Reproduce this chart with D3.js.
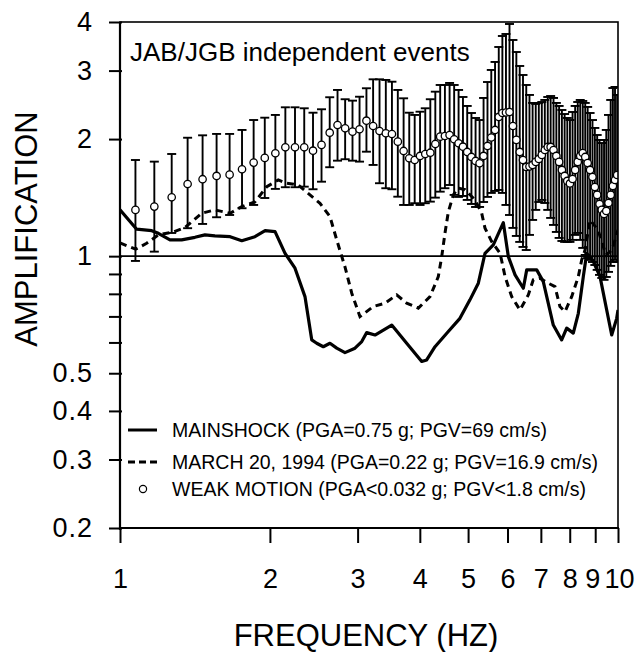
<!DOCTYPE html>
<html>
<head>
<meta charset="utf-8">
<script src="https://cdn.jsdelivr.net/npm/d3@7"></script>
<style>
  body { margin: 0; background: #fff; }
  svg { display: block; }
  text { font-family: "Liberation Sans", Arial, Helvetica, sans-serif; fill: #000; }
</style>
</head>
<body>
<svg id="chart" width="637" height="652"></svg>
<script>
// weak motion spectral ratios (mean +/- 1 sigma), FFT frequencies in Hz
const weakFreq = [1.074,1.172,1.270,1.367,1.465,1.563,1.660,1.758,1.855,1.953,2.051,
  2.148,2.246,2.344,2.441,2.539,2.637,2.734,2.832,2.930,3.027,3.125,3.223,3.320,3.418,3.516,3.613,3.711,3.809,3.906,4.004,4.102,4.199,4.297,4.395,4.492,
  4.590,4.688,4.785,4.883,4.980,5.078,5.176,5.273,5.371,5.469,5.566,5.664,5.762,5.859,5.957,6.055,6.152,6.250,6.348,6.445,6.543,6.641,6.738,6.836,6.934,
  7.031,7.129,7.227,7.324,7.422,7.520,7.617,7.715,7.813,7.910,8.008,8.105,8.203,8.301,8.398,8.496,8.594,8.691,8.789,8.887,8.984,9.082,9.180,9.277,9.375,
  9.473,9.570,9.668,9.766,9.863,9.961];
const weakMean = [1.315,1.341,1.417,1.533,1.577,1.608,1.620,1.673,1.740,1.789,1.839,
  1.905,1.905,1.905,1.867,1.932,2.077,2.174,2.132,2.090,2.120,2.230,2.161,2.098,2.070,2.061,1.970,1.864,1.785,1.767,1.810,1.831,1.845,1.943,2.029,2.037,
  2.049,1.998,1.951,1.912,1.853,1.799,1.757,1.733,1.810,1.920,2.019,2.111,2.280,2.334,2.341,2.348,2.161,1.990,1.853,1.767,1.696,1.700,1.716,1.747,1.778,
  1.821,1.875,1.909,1.909,1.875,1.810,1.747,1.666,1.608,1.561,1.538,1.579,1.666,1.747,1.810,1.842,1.799,1.736,1.666,1.598,1.506,1.437,1.362,1.315,1.284,
  1.307,1.370,1.437,1.515,1.570,1.617];
const weakUpper = [1.767,1.750,1.831,2.016,2.045,2.062,2.062,2.111,2.239,2.270,2.307,
  2.414,2.414,2.400,2.338,2.386,2.562,2.675,2.532,2.511,2.570,2.702,2.849,2.849,2.838,2.809,2.675,2.546,2.338,2.307,2.352,2.400,2.532,2.648,2.755,2.755,
  2.788,2.755,2.675,2.566,2.433,2.334,2.266,2.239,2.551,2.804,3.011,3.157,3.450,3.682,3.726,3.953,3.596,3.349,3.083,2.923,2.755,2.597,2.477,2.462,2.477,
  2.491,2.521,2.566,2.581,2.551,2.477,2.433,2.376,2.320,2.266,2.239,2.348,2.433,2.491,2.521,2.506,2.477,2.419,2.334,2.239,2.136,2.049,1.990,1.954,1.990,
  2.111,2.307,2.521,2.706,2.723,2.597];
const weakLower = [0.972,1.027,1.147,1.180,1.210,1.259,1.276,1.328,1.354,1.411,1.489,
  1.504,1.504,1.509,1.486,1.554,1.693,1.760,1.775,1.760,1.750,1.856,1.716,1.540,1.495,1.486,1.422,1.354,1.354,1.368,1.354,1.368,1.381,1.414,1.465,1.495,
  1.524,1.437,1.420,1.428,1.395,1.362,1.338,1.338,1.378,1.420,1.454,1.471,1.480,1.454,1.354,1.276,1.182,1.127,1.088,1.056,1.037,1.134,1.239,1.315,1.378,
  1.395,1.370,1.315,1.254,1.203,1.154,1.114,1.094,1.088,1.088,1.088,1.101,1.134,1.147,1.101,1.050,1.007,0.989,0.978,0.966,0.949,0.922,0.895,0.879,0.869,
  0.884,0.911,0.944,0.966,0.978,0.966];

// mainshock ratio
const mainFreq = [1.000,1.080,1.158,1.194,1.260,1.330,1.414,1.481,1.551,1.664,1.756,1.866,1.956,2.048,2.145,2.246,2.352,2.427,2.483,2.560,
  2.640,2.724,2.830,2.964,3.058,3.129,3.251,3.513,3.764,4.035,4.129,4.291,4.563,4.815,5.043,5.242,5.407,5.619,5.885,6.023,
  6.213,6.455,6.557,6.867,7.079,7.414,7.707,7.888,8.132,8.324,8.518,8.653,8.921,9.203,9.491,9.713,9.940,10.0];
const mainAmp = [1.315,1.173,1.163,1.145,1.101,1.101,1.118,1.134,1.127,1.122,1.096,1.122,1.163,1.156,1.017,0.931,0.787,0.609,0.597,0.585,
  0.597,0.580,0.565,0.580,0.603,0.636,0.627,0.665,0.597,0.536,0.541,0.585,0.640,0.692,0.772,0.852,1.017,1.069,1.219,0.997,
  0.895,0.827,0.922,0.922,0.860,0.665,0.609,0.653,0.634,0.713,0.886,1.017,0.968,0.886,0.727,0.627,0.692,0.727];

// March 20, 1994 aftershock ratio
const marchFreq = [1.000,1.075,1.131,1.194,1.279,1.351,1.459,1.551,1.664,1.756,1.866,1.971,2.079,2.161,2.280,2.407,2.521,2.640,2.724,2.830,
  2.920,3.033,3.226,3.405,3.594,3.764,3.972,4.193,4.357,4.426,4.493,4.563,4.670,4.772,4.929,5.163,5.325,5.407,5.578,5.798,
  5.932,6.117,6.356,6.605,6.759,6.971,7.244,7.472,7.646,7.826,8.073,8.324,8.455,8.586,8.786,9.117,9.460,9.727,10.0];
const marchAmp = [1.081,1.042,1.079,1.134,1.154,1.185,1.289,1.315,1.289,1.341,1.378,1.509,1.570,1.540,1.524,1.437,1.368,1.264,1.101,0.938,
  0.803,0.699,0.742,0.757,0.795,0.757,0.735,0.787,0.886,0.997,1.145,1.299,1.437,1.497,1.482,1.395,1.289,1.180,1.090,1.017,
  0.886,0.787,0.727,0.795,0.869,0.877,0.852,0.835,0.742,0.720,0.787,0.886,0.978,1.037,1.239,1.168,1.007,1.037,1.168];

const xTicks = [1,2,3,4,5,6,7,8,9,10];
const yTicks = [0.2,0.3,0.4,0.5,0.6,0.7,0.8,0.9,1,2,3,4];
const yLabels = [0.2,0.3,0.4,0.5,1,2,3,4];
const legendItems = [
  { label: 'MAINSHOCK (PGA=0.75 g; PGV=69 cm/s)', kind: 'solid' },
  { label: 'MARCH 20, 1994 (PGA=0.22 g; PGV=16.9 cm/s)', kind: 'dash' },
  { label: 'WEAK MOTION (PGA<0.032 g; PGV<1.8 cm/s)', kind: 'circle' }
];

const m = { left: 120, right: 618, top: 22, bottom: 528 };
const svg = d3.select('#chart');
const x = d3.scaleLog().domain([1, 10]).range([m.left, m.right]);
const y = d3.scaleLog().domain([0.2, 4]).range([m.bottom, m.top]);

svg.append('defs').append('clipPath').attr('id', 'plot')
  .append('rect').attr('x', m.left).attr('y', m.top).attr('width', m.right - m.left).attr('height', m.bottom - m.top);

const plot = svg.append('g').attr('clip-path', 'url(#plot)');

// unity line
plot.append('line')
  .attr('x1', m.left).attr('x2', m.right).attr('y1', y(1)).attr('y2', y(1))
  .attr('stroke', '#000').attr('stroke-width', 1.6);

const weak = weakFreq.map((f, i) => ({ f, mean: weakMean[i], hi: weakUpper[i], lo: weakLower[i] }));

// error bars
const bars = plot.append('g').attr('stroke', '#000').attr('stroke-width', 1.9);
weak.forEach(d => {
  const cx = x(d.f);
  bars.append('line').attr('x1', cx).attr('x2', cx).attr('y1', y(d.lo)).attr('y2', y(d.hi));
  bars.append('line').attr('x1', cx - 4.5).attr('x2', cx + 4.5).attr('y1', y(d.hi)).attr('y2', y(d.hi));
  bars.append('line').attr('x1', cx - 4.5).attr('x2', cx + 4.5).attr('y1', y(d.lo)).attr('y2', y(d.lo));
});

// circles
plot.append('g').selectAll('circle').data(weak).enter().append('circle')
  .attr('cx', d => x(d.f)).attr('cy', d => y(d.mean)).attr('r', 3.7)
  .attr('fill', '#fff').attr('stroke', '#000').attr('stroke-width', 1.3);

const line = d3.line().x(d => x(d[0])).y(d => y(d[1]));

plot.append('path')
  .datum(marchFreq.map((f, i) => [f, marchAmp[i]]))
  .attr('d', line).attr('fill', 'none').attr('stroke', '#000')
  .attr('stroke-width', 3).attr('stroke-dasharray', '7,5');

plot.append('path')
  .datum(mainFreq.map((f, i) => [f, mainAmp[i]]))
  .attr('d', line).attr('fill', 'none').attr('stroke', '#000')
  .attr('stroke-width', 3.2).attr('stroke-linejoin', 'round');

// frame
svg.append('rect').attr('x', m.left).attr('y', m.top).attr('width', m.right - m.left).attr('height', m.bottom - m.top)
  .attr('fill', 'none').attr('stroke', '#000').attr('stroke-width', 1.6);
svg.append('line').attr('x1', m.left).attr('x2', m.left).attr('y1', m.top).attr('y2', m.bottom + 2)
  .attr('stroke', '#000').attr('stroke-width', 2.2);
svg.append('line').attr('x1', m.left - 1).attr('x2', m.right + 1).attr('y1', m.bottom).attr('y2', m.bottom)
  .attr('stroke', '#000').attr('stroke-width', 2.2);

// axes
const xAxis = d3.axisBottom(x).tickValues(xTicks).tickSize(15).tickPadding(26)
  .tickFormat(d3.format('d'));
const gx = svg.append('g').attr('transform', `translate(0,${m.bottom})`).call(xAxis);
gx.select('.domain').remove();
gx.selectAll('.tick line').attr('stroke-width', 2);
gx.selectAll('.tick text').attr('font-size', 27).attr('font-family', '"Liberation Sans", Arial, sans-serif');
gx.selectAll('.tick text').filter(d => d === 9).attr('dx', -3);
gx.selectAll('.tick text').filter(d => d === 10).attr('dx', 1);

const yAxis = d3.axisLeft(y).tickValues(yTicks).tickSize(11).tickPadding(16)
  .tickFormat(d => yLabels.includes(d) ? String(d) : '');
const gy = svg.append('g').attr('transform', `translate(${m.left},0)`).call(yAxis);
gy.select('.domain').remove();
gy.selectAll('.tick line').attr('stroke-width', 2).attr('x2', -11).attr('x1', 2);
gy.selectAll('.tick text').attr('font-size', 27).attr('letter-spacing', 1)
  .attr('font-family', '"Liberation Sans", Arial, sans-serif');

// titles
svg.append('text').attr('x', 366).attr('y', 646).attr('text-anchor', 'middle')
  .attr('font-size', 31).text('FREQUENCY (HZ)');
svg.append('text').attr('transform', 'translate(37,229) rotate(-90)').attr('text-anchor', 'middle')
  .attr('font-size', 31).text('AMPLIFICATION');
svg.append('text').attr('x', 130).attr('y', 61).attr('font-size', 26)
  .text('JAB/JGB independent events');

// legend
const lg = svg.append('g');
const rowY = [430, 462, 489];
legendItems.forEach((item, i) => {
  const yy = rowY[i];
  if (item.kind === 'circle') {
    lg.append('circle').attr('cx', 143).attr('cy', yy).attr('r', 3.6)
      .attr('fill', '#fff').attr('stroke', '#000').attr('stroke-width', 1.2);
  } else {
    lg.append('line').attr('x1', 128).attr('x2', 157).attr('y1', yy).attr('y2', yy)
      .attr('stroke', '#000').attr('stroke-width', 3)
      .attr('stroke-dasharray', item.kind === 'dash' ? '7,4' : null);
  }
  lg.append('text').attr('x', 172).attr('y', yy + 7).attr('font-size', 19.5).text(item.label);
});
</script>
</body>
</html>
